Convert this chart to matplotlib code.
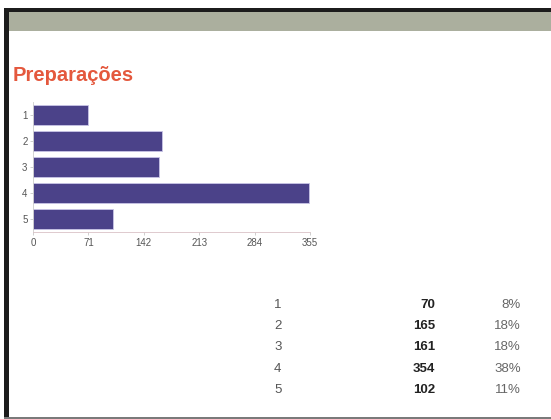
import matplotlib.pyplot as plt
from matplotlib.patches import Rectangle

# Survey answers for "Preparações" (scale 1-5)
categories = ["1", "2", "3", "4", "5"]
counts = [70, 165, 161, 354, 102]
percents = ["8%", "18%", "18%", "38%", "11%"]
x_ticks = [0, 71, 142, 213, 284, 355]

W, H = 551, 419
BAR_COLOR = "#4b4289"
TITLE_COLOR = "#e4583d"


def px(x, y, w, h):
    """Pixel box (top-left origin) -> figure fraction rect."""
    return [x / W, 1 - (y + h) / H, w / W, h / H]


def frame_rect(x, y, w, h, color):
    fig.patches.append(Rectangle((x / W, 1 - (y + h) / H), w / W, h / H,
                                 transform=fig.transFigure, facecolor=color,
                                 edgecolor="none", zorder=-1))


fig = plt.figure(figsize=(W / 100, H / 100), dpi=100)
plt.rcParams["font.family"] = ["Liberation Sans", "DejaVu Sans"]

# page frame: black top/left border, grey header strip, grey bottom line
frame_rect(4, 8, W, 4, "#1c1c1c")
frame_rect(9, 12, W, 19, "#abaf9e")
frame_rect(4, 8, 5, 409, "#1c1c1c")
frame_rect(4, 416.5, W, 2.5, "#7a7a7a")

fig.text(13 / W, 1 - 75 / H, "Preparações", color=TITLE_COLOR, fontsize=14.5,
         fontweight="bold", va="center", ha="left")

# horizontal bar chart
ax = fig.add_axes(px(33, 102, 277, 130))
ax.patch.set_alpha(0)
y = list(range(len(categories)))
ax.barh(y, counts, height=0.8, color=BAR_COLOR, edgecolor="#c9c4e6", linewidth=0.6)
ax.set_ylim(4.5, -0.5)
ax.set_xlim(0, 355)
ax.set_yticks(y)
ax.set_yticklabels(categories)
ax.set_xticks(x_ticks)
ax.tick_params(axis="both", labelsize=7, labelcolor="#555555", color="#bbbbbb",
               length=2.5, width=0.5, pad=1.5)
for side in ("top", "right"):
    ax.spines[side].set_visible(False)
ax.spines["left"].set_color("#cccccc")
ax.spines["bottom"].set_color("#d9c2c6")
ax.spines["left"].set_linewidth(0.6)
ax.spines["bottom"].set_linewidth(0.6)

# summary table under the chart
row_y = [305, 326, 347, 369, 390]
for cat, n, pct, ry in zip(categories, counts, percents, row_y):
    fy = 1 - ry / H
    fig.text(274 / W, fy, cat, fontsize=9.5, color="#555555", va="center", ha="left")
    fig.text(435 / W, fy, str(n), fontsize=9.5, color="#222222", fontweight="bold",
             va="center", ha="right")
    fig.text(521 / W, fy, pct, fontsize=9.5, color="#666666", va="center", ha="right")

fig.savefig("out.png", dpi=100)
